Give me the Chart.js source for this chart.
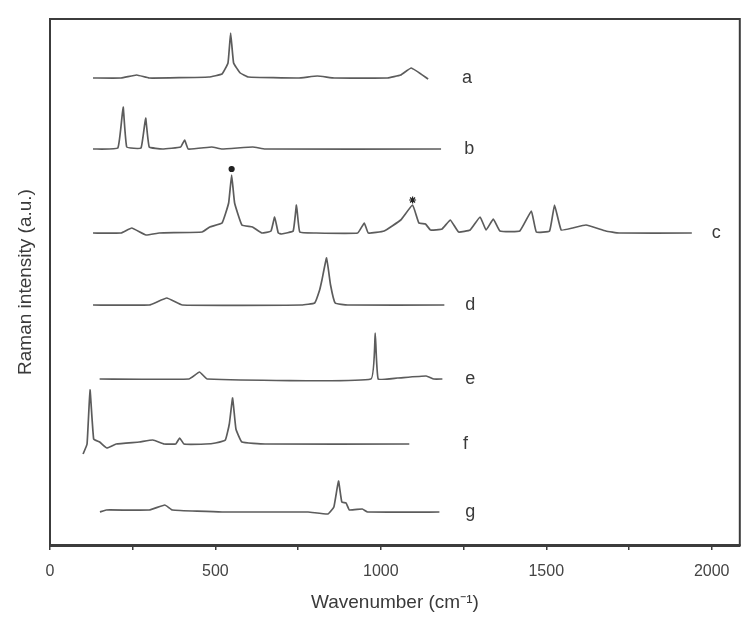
<!DOCTYPE html>
<html>
<head>
<meta charset="utf-8">
<script src="https://cdn.jsdelivr.net/npm/chart.js@4/dist/chart.umd.min.js"></script>
<style>
  html, body { margin: 0; padding: 0; background: #fff; }
  #wrap { width: 745px; height: 628px; }
</style>
</head>
<body>
<div id="wrap"><canvas id="raman"></canvas></div>
<script>
// sample names, top to bottom
const names = ['a', 'b', 'c', 'd', 'e', 'f', 'g'];

// vertical offset of each spectrum (a.u.)
const offsets = [467, 396, 312, 240, 166, 101, 33];

// where the letter sits on the wavenumber axis
const labelAt = [1245, 1252, 2000, 1255, 1255, 1248, 1255];

// spectra as [wavenumber, intensity above baseline]
const specA = [[130,0],[215,0],[262,3],[300,0],[480,1],[520,4],[538,15],[546,45],[555,15],[575,5],[600,1],[750,0],[808,2],[860,0],[1020,0],[1060,3],[1092,10],[1143,-1]];
const specB = [[130,0],[205,1],[221,42],[232,2],[275,1],[289,31],[300,2],[340,0],[395,2],[407,9],[418,0],[489,2],[520,0],[613,2],[650,0],[1182,0]];
const specC = [[130,0],[215,0],[247,5],[290,-2],[330,0],[460,1],[483,6],[520,10],[540,30],[549,58],[558,30],[580,8],[612,6],[640,0],[668,2],[679,16],[690,0],[700,-1],[735,2],[745,28],[755,1],[800,0],[930,0],[950,10],[962,0],[1010,2],[1060,13],[1096,28],[1115,10],[1135,9],[1150,3],[1185,4],[1210,13],[1235,1],[1270,3],[1300,16],[1318,3],[1340,14],[1360,2],[1420,2],[1455,22],[1470,1],[1510,2],[1525,28],[1545,3],[1580,5],[1620,8],[1680,2],[1720,0],[1940,0]];
const specD = [[130,0],[300,0],[353,7],[400,0],[760,0],[800,2],[815,15],[822,25],[836,47],[848,20],[862,2],[900,0],[1192,0]];
const specE = [[150,0],[420,0],[452,7],[475,0],[970,0],[983,46],[992,0],[1050,1],[1137,3],[1160,0],[1186,0]];
const specF = [[100,-10],[112,0],[121,54],[132,5],[150,2],[172,-4],[200,0],[270,2],[311,4],[345,0],[380,0],[392,6],[405,0],[470,0],[500,1],[530,4],[542,20],[552,46],[562,15],[580,2],[650,0],[1086,0]];
const specG = [[151,0],[170,2],[300,2],[347,7],[370,2],[520,0],[780,0],[840,-2],[858,5],[872,31],[882,10],[895,9],[905,2],[944,3],[960,0],[1177,0]];
const spectra = [specA, specB, specC, specD, specE, specF, specG];

// marks over peaks of c: [wavenumber, height above baseline]
const cMarks = [[549, 64], [1096, 33]];
const cMarkStyles = ['circle', 'star'];

const lineColor = '#5c5c5c';
const axisColor = '#3c3c3c';
const textColor = '#3a3a3a';
const fontFamily = '"Liberation Sans", Arial, sans-serif';

const datasets = spectra.map((pts, i) => ({
    label: names[i],
    data: pts.map(p => ({ x: p[0], y: p[1] + offsets[i] })),
    borderColor: lineColor,
    borderWidth: 1.7,
    pointRadius: 0,
    tension: 0.1,
    fill: false
}));

datasets.push({
    type: 'scatter',
    label: 'marks',
    data: cMarks.map(p => ({ x: p[0], y: p[1] + offsets[2] })),
    pointStyle: cMarkStyles,
    pointRadius: [2.5, 3.5],
    backgroundColor: '#222',
    borderColor: '#222',
    borderWidth: 1.2
});

// box round the plot and the sample letters
const framePlugin = {
    id: 'frame',
    afterDraw(chart) {
        const { ctx, chartArea: a, scales } = chart;
        ctx.save();
        ctx.strokeStyle = axisColor;
        ctx.lineWidth = 2;
        ctx.strokeRect(a.left, a.top, a.right - a.left, a.bottom - a.top);

        ctx.fillStyle = textColor;
        ctx.font = '18px ' + fontFamily;
        ctx.textAlign = 'left';
        ctx.textBaseline = 'middle';
        names.forEach((n, i) => {
            const x = scales.x.getPixelForValue(labelAt[i]);
            const y = scales.y.getPixelForValue(offsets[i]);
            ctx.fillText(n, x, y);
        });
        ctx.restore();
    }
};

new Chart(document.getElementById('raman'), {
    type: 'line',
    data: { datasets: datasets },
    options: {
        responsive: true,
        maintainAspectRatio: false,
        animation: false,
        events: [],
        layout: { padding: { top: 19, right: 1, left: 0, bottom: 0 } },
        plugins: {
            legend: { display: false },
            tooltip: { enabled: false }
        },
        scales: {
            x: {
                type: 'linear',
                min: 0,
                max: 2085,
                afterFit: s => { s.height = 83; },
                border: { color: axisColor, width: 3 },
                grid: { display: true, drawOnChartArea: false, color: axisColor, tickLength: 5, lineWidth: 1.5 },
                ticks: {
                    stepSize: 250,
                    includeBounds: false,
                    maxRotation: 0,
                    autoSkip: false,
                    padding: 12,
                    color: '#444',
                    font: { family: fontFamily, size: 16 },
                    callback: v => (v % 500 === 0 ? v : '')
                },
                title: {
                    display: true,
                    text: 'Wavenumber (cm⁻¹)',
                    color: textColor,
                    padding: { top: 8, bottom: 14 },
                    font: { family: fontFamily, size: 19 }
                }
            },
            y: {
                min: 0,
                max: 526,
                afterFit: s => { s.width = 50; },
                border: { color: axisColor, width: 2 },
                grid: { display: false },
                ticks: { display: false },
                title: {
                    display: true,
                    text: 'Raman intensity (a.u.)',
                    color: textColor,
                    padding: { top: 14, bottom: 0 },
                    font: { family: fontFamily, size: 19 }
                }
            }
        }
    },
    plugins: [framePlugin]
});
</script>
</body>
</html>
